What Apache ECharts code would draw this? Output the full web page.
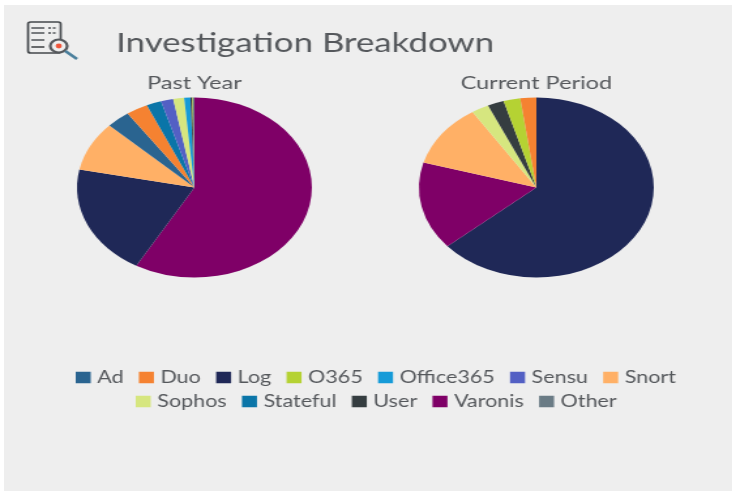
<!DOCTYPE html>
<html>
<head>
<meta charset="utf-8">
<title>Investigation Breakdown</title>
<script src="https://cdn.jsdelivr.net/npm/echarts@6/dist/echarts.min.js"></script>
<style>
    html, body { margin: 0; padding: 0; background: #fff; overflow: hidden; }
    #panel { position: absolute; left: 4px; top: 5px; width: 728px; height: 486px; background: #eeeeee; }
    /* the reference is stretched sideways and a little soft, so draw narrow and scale the whole chart */
    #chart { position: absolute; left: 0; top: 0; width: 561px; height: 491px; transform: scaleX(1.305); transform-origin: 0 0; filter: blur(0.4px); }
</style>
</head>
<body>
<div id="panel"></div>
<div id="chart"></div>
<script>
var legendRow1 = ['Ad', 'Duo', 'Log', 'O365', 'Office365', 'Sensu', 'Snort'];
var legendRow2 = ['Sophos', 'Stateful', 'User', 'Varonis', 'Other'];
var colors = {
    Ad: '#2a6490', Duo: '#f58231', Log: '#1f2857', O365: '#b5d233',
    Office365: '#169bd8', Sensu: '#5360c4', Snort: '#ffb066', Sophos: '#d6e67f',
    Stateful: '#0a75a8', User: '#353d40', Varonis: '#7f0067', Other: '#6a7b85'
};

var pastYearNames = ['Varonis', 'Log', 'Snort', 'Ad', 'Duo', 'Stateful', 'Sensu', 'Sophos', 'Office365', 'User', 'O365', 'Other'];
var pastYearValues = [58.3, 20.0, 8.9, 3.25, 3.0, 2.05, 1.7, 1.5, 0.85, 0.25, 0.1, 0.2];

var currentNames = ['Log', 'Varonis', 'Snort', 'Sophos', 'User', 'O365', 'Duo'];
var currentValues = [63.7, 15.8, 11.4, 2.4, 2.25, 2.3, 2.2];

function pieData(names, values) {
    return names.map(function (n, i) {
        return {name: n, value: values[i], itemStyle: {color: colors[n]}};
    });
}

function legendRow(names, left, top) {
    return {
        data: names,
        left: left,
        top: top,
        padding: 0,
        itemWidth: 11.5,
        itemHeight: 11.5,
        itemGap: 11.7,
        icon: 'rect',
        textStyle: {fontFamily: 'Lato', fontSize: 16.5, color: textColor}
    };
}

var textColor = '#55585c';
var chart = echarts.init(document.getElementById('chart'));
chart.setOption({
    animation: false,
    textStyle: {fontFamily: 'Lato'},
    title: [
        {text: 'Investigation Breakdown', left: 89, top: 30, padding: 0, textStyle: {fontFamily: 'Lato', fontSize: 26.7, fontWeight: 'normal', color: textColor}},
        {text: 'Past Year', left: 149, top: 74, padding: 0, textAlign: 'center', textStyle: {fontFamily: 'Lato', fontSize: 18, fontWeight: 'normal', color: textColor}},
        {text: 'Current Period', left: 411, top: 74, padding: 0, textAlign: 'center', textStyle: {fontFamily: 'Lato', fontSize: 18, fontWeight: 'normal', color: textColor}}
    ],
    legend: [
        legendRow(legendRow1, 58, 369),
        legendRow(legendRow2, 104, 393)
    ],
    series: [
        {
            name: 'Past Year', type: 'pie', center: [149, 187.5], radius: 90,
            startAngle: 90, clockwise: true, label: {show: false}, labelLine: {show: false},
            data: pieData(pastYearNames, pastYearValues)
        },
        {
            name: 'Current Period', type: 'pie', center: [411, 187.5], radius: 90,
            startAngle: 90, clockwise: true, label: {show: false}, labelLine: {show: false},
            data: pieData(currentNames, currentValues)
        }
    ],
    graphic: [
        {type: 'rect', shape: {x: 21.5, y: 22, width: 25, height: 31, r: 2}, style: {fill: 'none', stroke: '#44484c', lineWidth: 1.7}},
        {type: 'line', shape: {x1: 24, y1: 28, x2: 34, y2: 28}, style: {stroke: '#44484c', lineWidth: 1.4}},
        {type: 'line', shape: {x1: 37, y1: 28, x2: 44, y2: 28}, style: {stroke: '#44484c', lineWidth: 1.4, lineDash: [2, 1.5]}},
        {type: 'line', shape: {x1: 24, y1: 33, x2: 34, y2: 33}, style: {stroke: '#44484c', lineWidth: 1.4}},
        {type: 'line', shape: {x1: 37, y1: 33, x2: 44, y2: 33}, style: {stroke: '#44484c', lineWidth: 1.4, lineDash: [2, 1.5]}},
        {type: 'line', shape: {x1: 24, y1: 40, x2: 34, y2: 40}, style: {stroke: '#44484c', lineWidth: 1.4}},
        {type: 'line', shape: {x1: 24, y1: 47, x2: 34, y2: 47}, style: {stroke: '#2e3134', lineWidth: 1.4}},
        {type: 'circle', shape: {cx: 45, cy: 46, r: 6.5}, style: {fill: '#eeeeee', stroke: '#55585c', lineWidth: 2.2}},
        {type: 'circle', shape: {cx: 45, cy: 46, r: 2.4}, style: {fill: '#f0553a'}},
        {type: 'line', shape: {x1: 50, y1: 51, x2: 59, y2: 59}, style: {stroke: '#4a7f9c', lineWidth: 2.4}}
    ]
});
</script>
</body>
</html>
